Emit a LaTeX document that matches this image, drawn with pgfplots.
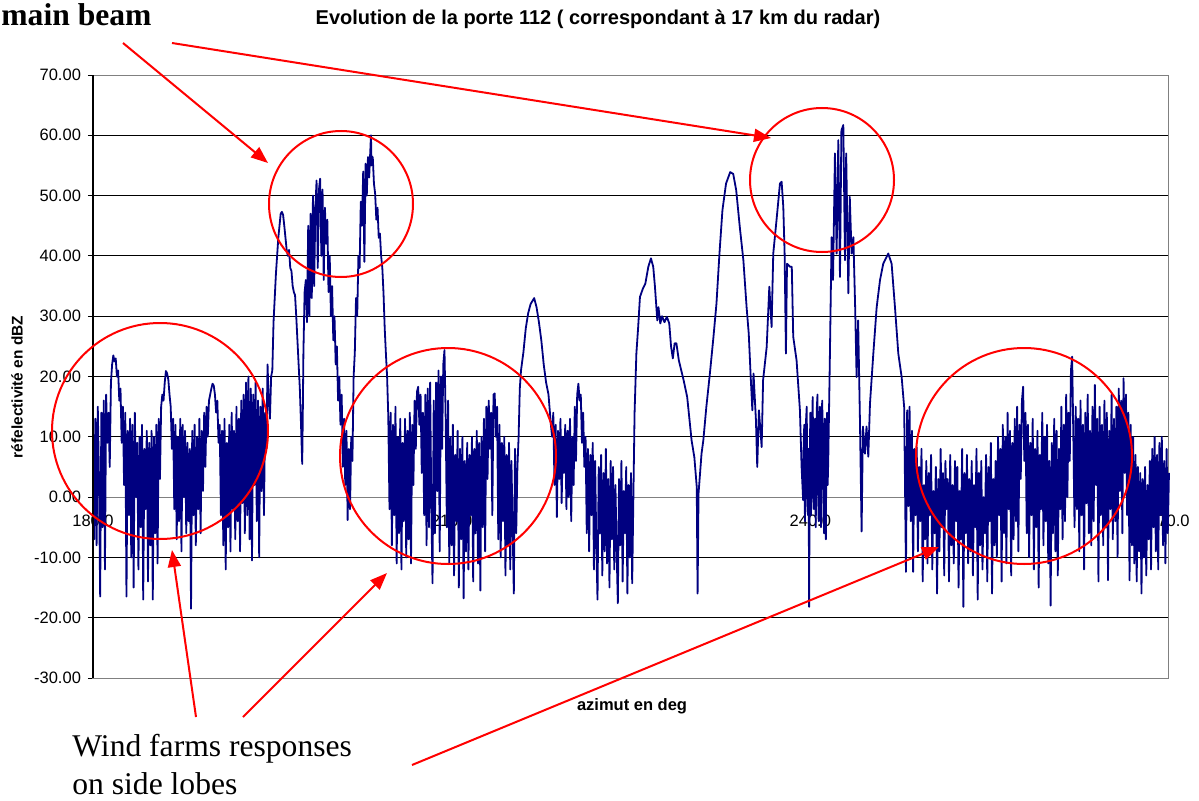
\documentclass[border=0pt]{standalone}
\usepackage{fontspec}
\setmainfont{Liberation Sans}
\newfontfamily\timesfont{Liberation Serif}
\usepackage{pgfplots}
\pgfplotsset{compat=1.18}
\usetikzlibrary{arrows.meta}
\definecolor{navyline}{RGB}{0,0,128}
\definecolor{framegray}{RGB}{128,128,128}
\begin{document}
\begin{tikzpicture}
\useasboundingbox (0,0) rectangle (599.5pt,400pt);
\begin{axis}[
  at={(46.5pt,61pt)}, anchor=south west,
  scale only axis, width=538pt, height=301.5pt,
  xmin=180, xmax=270, ymin=-30, ymax=70,
  axis line style={framegray, line width=0.5pt},
  ytick={-30,-20,-10,10,20,30,40,50,60,70},
  extra y ticks={0},
  extra y tick style={major grid style={framegray, line width=0.6pt}},
  ymajorgrids,
  major grid style={black, line width=0.5pt},
  ytick pos=left,
  tick align=outside,
  major tick length=2.5pt,
  ytick style={black, line width=0.5pt},
  xtick={180,210,240,270},
  xticklabels={180.0,210.0,240.0,270.0},
  xtick style={draw=none},
  xticklabel style={yshift=87.5pt},
  ticklabel style={font=\fontsize{8.25pt}{10pt}\selectfont},
  /pgf/number format/assume math mode=true,
  yticklabel style={/pgf/number format/.cd, fixed, fixed zerofill, precision=2},
  clip=false,
]
\addplot[navyline, line width=0.9pt, line join=round] coordinates {
(180.0,12) (180.1,-7) (180.2,13) (180.3,-8) (180.4,15) (180.5,3) (180.6,-16.5) (180.7,14) (180.8,-5) (180.9,16)
(181.0,-12) (181.1,17) (181.2,9) (181.3,14) (181.4,5) (181.5,19) (181.6,22) (181.7,23.5) (181.8,22.5) (181.9,23)
(182.0,20) (182.1,21) (182.2,16) (182.3,18) (182.4,9) (182.5,15) (182.6,2) (182.7,14) (182.8,-16.5) (182.9,11)
(183.0,-3) (183.1,13) (183.2,-10) (183.3,12) (183.4,-15) (183.5,14) (183.6,0) (183.7,9) (183.8,-12) (183.9,10)
(184.0,-5) (184.1,12) (184.2,-17) (184.3,8) (184.4,-2) (184.5,11) (184.6,-14) (184.7,9) (184.8,-8) (184.9,11)
(185.0,-17) (185.1,10) (185.2,-6) (185.3,12) (185.4,-11) (185.5,13) (185.6,3) (185.7,15) (185.8,17) (185.9,16)
(186.0,19) (186.1,20.9) (186.2,20.5) (186.3,19.5) (186.4,17) (186.5,15) (186.6,8) (186.7,13) (186.8,-2) (186.9,12)
(187.0,-7) (187.1,10) (187.2,-4) (187.3,13) (187.4,-9) (187.5,12) (187.6,0) (187.7,11) (187.8,-6) (187.9,9)
(188.0,-4) (188.1,8) (188.2,-18.5) (188.3,11) (188.4,-3) (188.5,12) (188.6,-8) (188.7,10) (188.8,-2) (188.9,13)
(189.0,-6) (189.1,11) (189.2,1) (189.3,14) (189.4,5) (189.5,15) (189.6,10) (189.7,16) (189.8,17) (189.9,18)
(190.0,18.8) (190.1,18.5) (190.2,17) (190.3,14) (190.4,16) (190.5,9) (190.6,12) (190.7,-3) (190.8,11) (190.9,-8)
(191.0,13) (191.1,-12) (191.2,9) (191.3,-5) (191.4,12) (191.5,-9) (191.6,14) (191.7,-2) (191.8,11) (191.9,-7)
(192.0,15) (192.1,-4) (192.2,13) (192.3,-9) (192.4,16) (192.5,-1) (192.6,17) (192.7,-6) (192.8,19) (192.9,-3)
(193.0,20) (193.1,-7) (193.2,18) (193.3,-10.5) (193.4,17) (193.5,2) (193.6,19) (193.7,-4) (193.8,16) (193.9,-10)
(194.0,15) (194.1,1) (194.2,18) (194.3,-3) (194.4,14) (194.5,8) (194.6,22) (194.7,16) (194.8,13) (194.9,20)
(195.0,21) (195.1,29) (195.2,33) (195.3,37) (195.4,40) (195.5,43) (195.6,45) (195.7,47) (195.8,47.3) (195.9,46.8)
(196.0,45) (196.1,43) (196.2,41) (196.3,40) (196.4,41) (196.5,38) (196.6,37.5) (196.7,35) (196.8,34) (196.9,33.5)
(197.0,30) (197.1,26) (197.2,22) (197.3,18) (197.4,12) (197.5,5.5) (197.55,14) (197.6,24) (197.7,34)
(197.8,36) (197.9,29) (198.0,45) (198.1,30) (198.2,47) (198.3,33) (198.4,50) (198.5,35) (198.6,48) (198.7,52.5)
(198.8,38) (198.9,51) (199.0,52.8) (199.1,40) (199.2,51) (199.3,36) (199.4,48) (199.5,42) (199.6,46) (199.7,34)
(199.8,40) (199.9,30) (200.0,35) (200.1,26) (200.2,30) (200.3,22) (200.4,25) (200.5,16) (200.6,20) (200.7,12)
(200.8,17) (200.9,5) (201.0,13) (201.1,2) (201.2,11) (201.3,-3.8) (201.4,8) (201.5,-2) (201.6,10) (201.7,6)
(201.8,20) (201.9,24) (202.0,33) (202.1,30) (202.2,40) (202.3,38) (202.4,49) (202.5,45) (202.6,54) (202.7,39)
(202.8,55.3) (202.9,50) (203.0,56.4) (203.1,53) (203.25,60) (203.3,55) (203.4,56.4) (203.5,52) (203.6,50.3) (203.7,46)
(203.8,48) (203.9,43) (204.0,43.7) (204.1,40) (204.2,38) (204.3,33.8) (204.4,28) (204.5,23.8) (204.6,20) (204.7,13.3)
(204.8,-2) (204.9,14) (205.0,-8) (205.1,12) (205.2,-3) (205.3,15) (205.4,-11) (205.5,10) (205.6,-6) (205.7,13)
(205.8,-12) (205.9,9) (206.0,-4) (206.1,13) (206.2,-10) (206.3,11) (206.4,-7) (206.5,14) (206.6,-11) (206.7,12)
(206.8,2) (206.9,16) (207.0,8) (207.1,17.5) (207.2,18.3) (207.3,12) (207.4,17) (207.5,4) (207.6,14) (207.7,-3)
(207.8,17) (207.9,-8) (208.0,18) (208.1,-5) (208.2,19) (208.3,-2) (208.4,-14.3) (208.5,16) (208.6,-6) (208.7,19)
(208.8,1) (208.9,21) (209.0,-9) (209.1,20) (209.2,8) (209.3,22) (209.4,24.4) (209.5,13) (209.6,-5) (209.7,16)
(209.8,-11) (209.9,10) (210.0,-8) (210.1,12) (210.2,-13) (210.3,7) (210.4,-4) (210.5,11) (210.6,-15) (210.7,8)
(210.8,-7) (210.9,10) (211.0,-16.8) (211.1,6) (211.2,-9) (211.3,9) (211.4,-12) (211.5,7) (211.6,-3) (211.7,10)
(211.8,-14) (211.9,8) (212.0,-6) (212.1,11) (212.2,-11) (212.3,9) (212.4,-15.5) (212.5,10) (212.6,-5) (212.7,13)
(212.8,-9) (212.9,15) (213.0,3) (213.1,16) (213.2,8) (213.3,14) (213.4,-3) (213.5,17) (213.6,17.2) (213.7,10)
(213.8,15) (213.9,-7) (214.0,12) (214.1,-10) (214.2,9) (214.3,-4) (214.4,10) (214.5,-13) (214.6,7) (214.7,-8)
(214.8,9) (214.9,-12) (215.0,6) (215.1,-5) (215.2,-16) (215.3,8) (215.4,-6) (215.5,5) (215.6,10) (215.7,18)
(215.8,21) (216.0,24) (216.2,28) (216.4,30.5) (216.6,32) (216.9,33) (217.1,31.5) (217.3,29) (217.5,26) (217.7,22)
(217.9,19) (218.1,17) (218.3,12) (218.4,10) (218.5,14) (218.6,2) (218.7,12) (218.8,-3.3) (218.9,11)
(219.0,3) (219.1,13) (219.2,-1) (219.3,10) (219.4,4) (219.5,12) (219.6,-2) (219.7,11) (219.8,0) (219.9,13)
(220.0,-4) (220.1,10) (220.2,2) (220.3,15) (220.4,6) (220.5,17) (220.6,18.8) (220.7,16) (220.8,17) (220.9,9)
(221.0,14) (221.1,5) (221.2,10) (221.3,-6) (221.4,8) (221.5,-9) (221.6,7) (221.7,-3) (221.8,9) (221.9,-12)
(222.0,6) (222.1,-8) (222.2,-17) (222.3,5) (222.4,-6) (222.5,7) (222.6,-13) (222.7,4) (222.8,-9) (222.9,8)
(223.0,-11) (223.1,3) (223.2,-15) (223.3,6) (223.4,-7) (223.5,5) (223.6,-12) (223.7,2) (223.8,-9) (223.9,-17.6)
(224.0,3) (224.1,-8) (224.2,6) (224.3,-14) (224.4,1) (224.5,-6) (224.6,5) (224.7,-16) (224.8,2) (224.9,-10)
(225.0,4) (225.1,-14.3) (225.2,0) (225.3,14) (225.45,23.8) (225.6,28.2) (225.75,33.2) (226.0,34.6) (226.2,35.4) (226.45,38.2)
(226.67,39.6) (226.86,38.2) (227.0,35) (227.2,29.3) (227.3,31.5) (227.45,28.8) (227.6,30) (227.8,29) (228.0,29.9) (228.2,28.8)
(228.35,25) (228.5,23) (228.65,25.5) (228.8,25.5) (229.0,22.7) (229.4,19.4) (229.7,16.6) (230.07,9.4) (230.3,6.6) (230.5,1.7)
(230.57,-16) (230.65,0.6) (230.9,7.2) (231.05,9.4) (231.3,14.9) (231.6,20.5) (231.9,26.6) (232.15,32.1) (232.4,40.4) (232.65,47.6)
(232.95,52) (233.3,53.9) (233.55,53.6) (233.8,50.9) (234.1,44.8) (234.4,39.3) (234.67,31.5) (234.85,27.1) (235.0,20.5) (235.15,14.4)
(235.25,20.5) (235.45,12.8) (235.56,5) (235.7,14.4) (235.93,8.3) (236.05,19.4) (236.35,24.9) (236.57,34.9) (236.76,28.2) (236.9,40.4)
(237.2,46.5) (237.46,52) (237.6,52.3) (237.74,48.1) (237.85,40.4) (237.96,23.8) (238.05,38.7) (238.3,38.2) (238.45,38.2) (238.57,26.6)
(238.85,22.7) (239.13,14.4) (239.27,5) (239.4,-0.5)
(239.45,10) (239.5,12) (239.55,-4) (239.6,2) (239.65,13) (239.7,15) (239.75,0) (239.8,-3) (239.85,8) (239.9,-18.2)
(239.95,5) (240.0,14) (240.05,-3) (240.1,0) (240.15,12) (240.2,16.6) (240.25,2) (240.3,-2) (240.35,11) (240.4,13)
(240.45,-5) (240.5,3) (240.55,15) (240.6,17) (240.65,1) (240.7,-4) (240.75,12) (240.8,15) (240.85,-2) (240.9,-5)
(240.95,14) (241.0,16) (241.05,3) (241.1,1) (241.15,-6) (241.2,13) (241.25,8) (241.3,-7) (241.35,11) (241.4,14)
(241.45,2) (241.5,6) (241.64,23.8) (241.78,43.1) (241.9,36) (242.06,57) (242.2,40.4)
(242.34,59.2) (242.48,36.5) (242.6,60.8) (242.76,61.7) (242.9,39.3) (243.0,57) (243.18,33.8) (243.3,49.8) (243.45,40.4) (243.6,43.1)
(243.75,31.5) (243.87,19.9) (244.0,29.3) (244.15,12.8) (244.29,-5.7) (244.4,11.7) (244.57,7.2) (244.7,11.7) (244.85,6.7) (244.99,15.5)
(245.27,23.8) (245.55,31.5) (245.83,36) (246.1,38.7) (246.52,40.4) (246.8,38.7) (247.08,31.5) (247.36,23.8) (247.64,19.9) (247.85,14.9)
(248.0,-12.4) (248.1,14.4) (248.2,-1.5) (248.3,15) (248.4,-4) (248.5,11) (248.6,-12.4) (248.7,8) (248.8,-3) (248.9,8.3)
(249.0,-9) (249.1,5) (249.2,-4) (249.3,8) (249.4,-14) (249.5,2) (249.6,-7) (249.7,6) (249.8,-11) (249.9,4)
(250.0,-3) (250.1,7) (250.2,-12) (250.3,1) (250.4,-6) (250.5,5) (250.6,-16) (250.7,3) (250.8,-9) (250.9,8)
(251.0,-5) (251.1,4) (251.2,-13) (251.3,6) (251.4,-2) (251.5,3) (251.6,-14) (251.7,7) (251.8,-8) (251.9,2)
(252.0,-11) (252.1,6) (252.2,-4) (252.3,5) (252.4,-15) (252.5,1) (252.6,-7) (252.7,8) (252.8,-18.2) (252.9,4)
(253.0,-6) (253.1,7) (253.2,-11) (253.3,3) (253.4,-9) (253.5,6) (253.6,-13) (253.7,2) (253.8,-5) (253.9,8)
(254.0,-17) (254.1,4) (254.2,-8) (254.3,6) (254.4,-12) (254.5,0) (254.6,-6) (254.7,7) (254.8,-14) (254.9,5)
(255.0,-4) (255.1,9) (255.2,-16) (255.3,3) (255.4,-8) (255.5,6) (255.6,-10) (255.7,10) (255.8,-3) (255.9,8)
(256.0,-14) (256.1,12) (256.2,-6) (256.3,10) (256.4,-11) (256.5,14) (256.6,-2) (256.7,11) (256.8,-13) (256.9,9)
(257.0,-7) (257.1,13) (257.2,-4) (257.3,15) (257.4,-9) (257.5,12) (257.6,3) (257.7,16) (257.8,18.3) (257.9,6)
(258.0,14) (258.1,-6) (258.2,12) (258.3,-10) (258.4,9) (258.5,-3) (258.6,13) (258.7,-12) (258.8,8) (258.9,-5)
(259.0,11) (259.1,-15) (259.2,7) (259.3,-2) (259.4,14) (259.5,-8) (259.6,10) (259.7,-4) (259.8,12) (259.9,-11)
(260.0,6) (260.1,-18) (260.2,9) (260.3,-6) (260.4,13) (260.5,-9) (260.6,11) (260.7,-13) (260.8,8) (260.9,-2)
(261.0,15) (261.1,-7) (261.2,12) (261.3,-4) (261.4,17) (261.5,0) (261.6,14) (261.7,6) (261.8,21) (261.9,23.3)
(262.0,10) (262.1,-5) (262.2,15) (262.3,-2) (262.4,13) (262.5,-9) (262.6,16) (262.7,-3) (262.8,12) (262.9,-12)
(263.0,14) (263.1,-1) (263.2,17) (263.3,-6) (263.4,11) (263.5,-8) (263.6,15) (263.7,-4) (263.8,18.6) (263.9,2)
(264.0,13) (264.1,-14) (264.2,15) (264.3,-3) (264.4,12) (264.5,-8) (264.6,16) (264.7,-5) (264.8,14) (264.9,-13.8)
(265.0,11) (265.1,-2) (265.2,17) (265.3,-7) (265.4,13) (265.5,-4) (265.6,15) (265.7,-10) (265.8,18) (265.9,1)
(266.0,16) (266.1,-6) (266.2,19.7) (266.3,4) (266.4,17) (266.5,-3) (266.6,14) (266.7,-13.8) (266.8,12) (266.9,-8)
(267.0,10) (267.1,-11) (267.2,7) (267.3,-14) (267.4,5) (267.5,-9) (267.6,4) (267.7,-16) (267.8,3) (267.9,-10)
(268.0,5) (268.1,-13) (268.2,2) (268.3,-7) (268.4,6) (268.5,-12) (268.6,8) (268.7,-5) (268.8,10) (268.9,-9)
(269.0,7) (269.1,-12) (269.2,9) (269.3,-3) (269.4,10) (269.5,-8) (269.6,6) (269.7,-11) (269.8,8) (269.9,-6)
(270.0,4)
};
\draw[black, line width=0.6pt] (rel axis cs:0,0) -- (rel axis cs:0,1);
\end{axis}
\begin{scope}[x=0.5pt, y=-0.5pt, shift={(0pt,400pt)}]
  % titles and axis labels
  \node[font=\bfseries\fontsize{10pt}{12pt}\selectfont] at (598,19) {Evolution de la porte 112 ( correspondant à 17 km du radar)};
  \node[font=\bfseries\fontsize{7.7pt}{9pt}\selectfont, rotate=90] at (17,387) {réfelectivité en dBZ};
  \node[font=\bfseries\fontsize{8.25pt}{10pt}\selectfont] at (632,706) {azimut en deg};
  % annotations
  \begin{scope}[red, line width=1pt]
    \draw (341,204) ellipse [x radius=72, y radius=73];
    \draw (822,180) ellipse [x radius=72, y radius=72];
    \draw (160,431) ellipse [x radius=108, y radius=108];
    \draw (448,456) ellipse [x radius=108, y radius=108];
    \draw (1024,456) ellipse [x radius=108, y radius=108];
    \draw[-{Triangle[length=8.5pt,width=6.5pt]}] (123,43) -- (268,163);
    \draw[-{Triangle[length=8.5pt,width=6.5pt]}] (172,43) -- (771,138);
    \draw[-{Triangle[length=8.5pt,width=6.5pt]}] (196,717) -- (172,550);
    \draw[-{Triangle[length=8.5pt,width=6.5pt]}] (243,717) -- (387,573);
    \draw[-{Triangle[length=8.5pt,width=6.5pt]}] (412,765) -- (939,547);
  \end{scope}
  \node[anchor=base west, inner sep=0pt, font=\timesfont\bfseries\fontsize{15.8pt}{18pt}\selectfont] at (1,26) {main beam};
  \node[anchor=base west, inner sep=0pt, font=\timesfont\fontsize{15.8pt}{18pt}\selectfont] at (72,756) {Wind farms responses};
  \node[anchor=base west, inner sep=0pt, font=\timesfont\fontsize{15.8pt}{18pt}\selectfont] at (72,794) {on side lobes};
\end{scope}
\end{tikzpicture}
\end{document}
